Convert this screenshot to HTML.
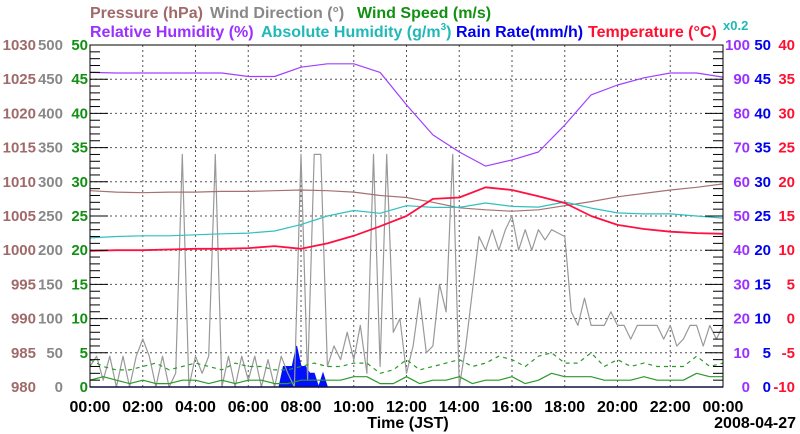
<!DOCTYPE html>
<html><head><meta charset="utf-8">
<style>
html,body{margin:0;padding:0;background:#fff;}
svg{display:block;font-family:"Liberation Sans",sans-serif;font-weight:bold;}
</style></head>
<body>
<svg id="chart" width="800" height="434" viewBox="0 0 800 434" xmlns="http://www.w3.org/2000/svg">
<g font-size="16">
<text x="90" y="18" fill="#a06a6a">Pressure (hPa)</text>
<text x="210" y="18" fill="#888">Wind Direction (°)</text>
<text x="357" y="18" fill="#119011">Wind Speed (m/s)</text>
</g>
<g font-size="16">
<text x="90" y="37" fill="#9b30ff">Relative Humidity (%)</text>
<text x="261" y="37" fill="#20b8b8">Absolute Humidity (g/m<tspan font-size="10" dy="-7">3</tspan><tspan dy="7">)</tspan></text>
<text x="456" y="37" fill="#0000ee">Rain Rate(mm/h)</text>
<text x="588" y="37" fill="#ff1030">Temperature (°C)</text>
<text x="723" y="30" fill="#20b8b8" font-size="13">x0.2</text>
</g>
<g id="grid"></g>
<g id="series"></g>
<g id="axes"></g>
<text x="408" y="428" font-size="16" text-anchor="middle">Time (JST)</text>
<text x="796" y="428" font-size="16" text-anchor="end">2008-04-27</text>
</svg>
<script>
const hours = [0,1,2,3,4,5,6,7,8,9,10,11,12,13,14,15,16,17,18,19,20,21,22,23,24];
const pressure = [1008.7,1008.5,1008.4,1008.5,1008.5,1008.6,1008.6,1008.7,1008.8,1008.7,1008.5,1008.0,1007.7,1007.0,1006.2,1005.9,1005.7,1005.9,1006.5,1007.1,1007.8,1008.3,1008.8,1009.2,1009.7];
const temperature = [9.9,10.0,10.0,10.1,10.2,10.2,10.3,10.6,10.2,11.0,12.1,13.5,15.0,17.5,17.7,19.2,18.8,17.9,16.9,15.0,13.7,13.1,12.7,12.5,12.4];
const relHumidity = [92,91.8,91.8,91.8,91.8,91.8,90.8,90.8,93.5,94.5,94.5,92.0,82.5,73.7,68.7,64.6,66.4,68.7,76.6,85.4,88.3,90.4,91.8,91.8,90.6];
const absHumidity = [43.6,44,44.2,44.2,44.5,44.8,45,45.6,47.5,50,51.6,50.8,53,52.5,52.5,53.8,52.8,52.6,54.1,52.3,50.9,50.6,50.6,50,49.4];
const windDir = [30,45,10,45,0,45,0,45,70,45,0,45,0,20,
340,0,45,20,45,340,0,45,0,45,10,45,0,40,0,45,20,0,
340,10,340,340,30,60,40,80,40,90,20,340,30,340,80,100,20,60,130,50,60,150,110,340,0,60,140,220,200,230,200,230,250,200,230,200,230,215,230,225,220,110,90,130,90,90,90,110,90,90,70,90,90,90,90,70,90,60,70,90,90,60,90,70,90];
const windSpeed = [1,1.5,1,0.5,1,0.5,0.5,1,1,0.5,1,0.5,1,1,0.5,0.5,1,1,1,1,1.5,1.5,0.5,0.5,1.5,0.5,1,1,1.5,0.5,1,1,1.5,0.5,1,2,1.5,1.5,1.5,1,1,1,1.5,1,1,1,2,1.5,1.5];
const windGust = [4,3,2.5,2.5,3,3.5,2.5,3,3.5,3,2.5,3.5,3,3,2.5,2.5,3,3.5,3,3,3.5,3.5,2,2.5,4,2.5,3,3.5,4,3,3.5,4.5,4,3,4.5,5,3.5,3.5,5,3,4,3,3.5,3,3,3,4.5,3,3.5];
const rainStart = 7;
const rainRate = [0,0,3,3,3,6,3,3,2,2,0,2,0];
const xTicks = ["00:00","02:00","04:00","06:00","08:00","10:00","12:00","14:00","16:00","18:00","20:00","22:00","00:00"];
const pressTicks = [980,985,990,995,1000,1005,1010,1015,1020,1025,1030];
const dirTicks = [0,50,100,150,200,250,300,350,400,450,500];
const speedTicks = [0,5,10,15,20,25,30,35,40,45,50];
const rhTicks = [0,10,20,30,40,50,60,70,80,90,100];
const rainTicks = [0,5,10,15,20,25,30,35,40,45,50];
const tempTicks = [-10,-5,0,5,10,15,20,25,30,35,40];

const L=90,R=723,T=45,B=387,NS="http://www.w3.org/2000/svg";
const xh = h => L + h/24*(R-L);
const yf = (min,max) => v => B - (v-min)/(max-min)*(B-T);
const yP=yf(980,1030), yD=yf(0,500), yS=yf(0,50), yRH=yf(0,100), yRain=yf(0,50), yT=yf(-10,40);
function mk(tag,attrs,parent){const e=document.createElementNS(NS,tag);for(const k in attrs)e.setAttribute(k,attrs[k]);parent.appendChild(e);return e;}
const grid=document.getElementById('grid'),series=document.getElementById('series'),axes=document.getElementById('axes');
for(let i=1;i<12;i++){const x=xh(i*2);const l=mk('line',{x1:x,x2:x,y1:T,y2:B,stroke:'#555','stroke-dasharray':'2,3','stroke-width':1},grid);

}
for(let i=1;i<10;i++){const y=T+i*(B-T)/10;const l=mk('line',{x1:L,x2:R,y1:y,y2:y,stroke:'#555','stroke-dasharray':'2,3','stroke-width':1},grid);

}
function poly(vals,fx,fy,color,name,extra){const pts=vals.map((v,i)=>fx(i).toFixed(1)+','+fy(v).toFixed(1)).join(' ');
const p=mk('polyline',Object.assign({points:pts,fill:'none',stroke:color,'stroke-width':1.2,'stroke-linejoin':'round'},extra||{}),series);

return p;}
const hx=i=>xh(hours[i]);
{const step=10/60;let d='M'+xh(rainStart)+','+B;rainRate.forEach((v,i)=>{d+=' L'+xh(rainStart+i*step).toFixed(1)+','+yRain(v).toFixed(1);});d+=' L'+xh(rainStart+(rainRate.length-1)*step)+','+B+' Z';
const p=mk('path',{d:d,fill:'#0010ff',stroke:'#0010ff','stroke-width':1},series);

}
poly(windDir,i=>xh(i*24/(windDir.length-1)),yD,'#999','wind-direction-line');
poly(windGust,i=>xh(i*24/(windGust.length-1)),yS,'#2a9a2a','wind-gust-line',{'stroke-dasharray':'4,4'});
poly(windSpeed,i=>xh(i*24/(windSpeed.length-1)),yS,'#2a9a2a','wind-speed-line');
poly(pressure,hx,yP,'#a87070','pressure-line');
poly(absHumidity,hx,yRH,'#30c0c0','absolute-humidity-line');
poly(temperature,hx,yT,'#ff1040','temperature-line',{'stroke-width':1.8});
poly(relHumidity,hx,yRH,'#a040ff','relative-humidity-line');
{const l=mk('line',{x1:L,x2:R,y1:B,y2:B,stroke:'#3030c0','stroke-width':1.5},series);

}
{const r=mk('rect',{x:L,y:T,width:R-L,height:B-T,fill:'none',stroke:'#000','stroke-width':1},axes);

}
for(let i=0;i<=50;i++){const y=T+i*(B-T)/50;const len=i%5===0?18:10;
const a=mk('line',{x1:L,x2:L+len,y1:y,y2:y,stroke:'#000','stroke-width':1},axes);


const b=mk('line',{x1:R-len,x2:R,y1:y,y2:y,stroke:'#000','stroke-width':1},axes);

}
function lab(txt,x,y,color,anchor,name,fs){const t=mk('text',{x:x,y:y,fill:color,'font-size':fs||16,'text-anchor':anchor},axes);t.textContent=txt;

}
for(let i=0;i<=10;i++){
lab(pressTicks[i],36,yP(pressTicks[i])+5,'#a06a6a','end','pressure-tick-label',15);
lab(dirTicks[i],63,yD(dirTicks[i])+5,'#888','end','wind-direction-tick-label',15);
lab(speedTicks[i],88,yS(speedTicks[i])+5,'#119011','end','wind-speed-tick-label',15);
lab(rhTicks[i],750,yRH(rhTicks[i])+5,'#9b30ff','end','relative-humidity-tick-label',15);
lab(rainTicks[i],771,yRain(rainTicks[i])+5,'#0000ee','end','rain-rate-tick-label',15);
lab(tempTicks[i],795,yT(tempTicks[i])+5,'#ff1030','end','temperature-tick-label',15);}
xTicks.forEach((t,i)=>lab(t,xh(i*2),412,'#000','middle','x-tick-label'));
</script>
</body></html>
